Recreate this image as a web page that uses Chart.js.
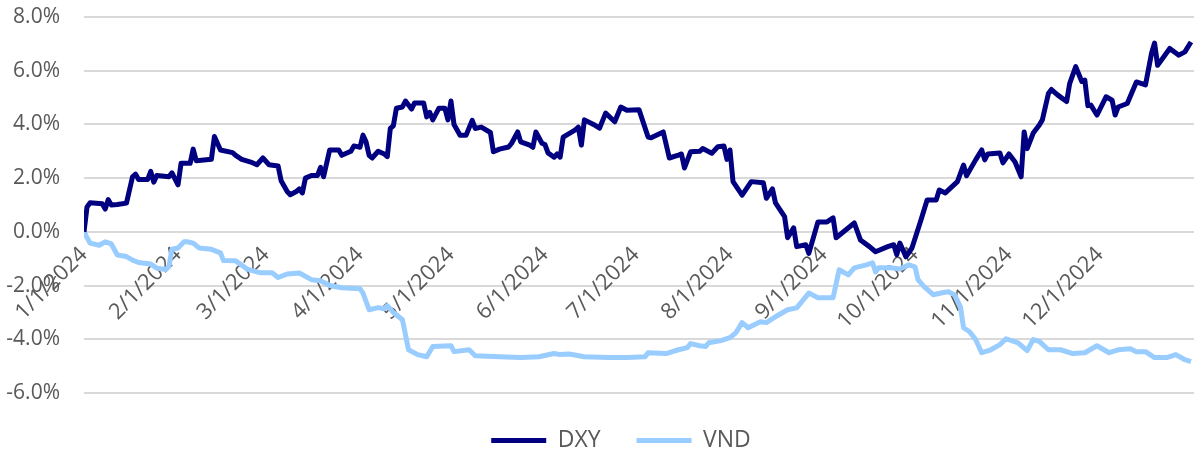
<!DOCTYPE html>
<html>
<head>
<meta charset="utf-8">
<script src="https://cdn.jsdelivr.net/npm/chart.js@4.4.1/dist/chart.umd.min.js"></script>
<style>
  html, body { margin: 0; padding: 0; background: #fff; }
  #wrap { width: 1194px; height: 456px; position: relative; }
</style>
</head>
<body>
<div id="wrap"><canvas id="MyChart"></canvas></div>
<script>
// days counted from 1/1/2024, values in % change since start of year
const dxyDays = [0, 1, 2, 6, 7, 8, 9, 11, 14, 16, 17, 18, 21, 22, 23, 24, 28, 29, 31, 32, 35, 36, 37, 42, 43, 45, 49, 50, 52, 55, 57, 59, 61, 64, 65, 67, 68, 70, 71, 72, 73, 75, 77, 78, 79, 81, 84, 85, 88, 89, 91, 92, 93, 94, 95, 97, 99, 100, 101, 102, 103, 105, 106, 108, 109, 112, 113, 114, 115, 117, 119, 120, 121, 122, 124, 126, 128, 129, 131, 134, 135, 137, 140, 141, 143, 144, 147, 148, 149, 151, 152, 153, 155, 156, 157, 158, 162, 163, 164, 165, 168, 170, 172, 175, 177, 179, 183, 186, 187, 191, 193, 196, 197, 198, 200, 203, 204, 207, 209, 211, 212, 213, 214, 217, 220, 224, 225, 227, 228, 231, 232, 234, 235, 238, 239, 242, 245, 247, 248, 254, 256, 259, 261, 265, 267, 268, 269, 271, 273, 276, 278, 281, 282, 284, 288, 290, 291, 294, 296, 297, 298, 302, 303, 305, 307, 309, 310, 311, 313, 315, 316, 318, 319, 321, 324, 325, 327, 329, 330, 331, 332, 334, 337, 339, 340, 341, 344, 347, 350, 352, 353, 354, 358, 361, 363, 365];
const dxyValues = [0, 0.93, 1.08, 1.05, 0.85, 1.2, 1.0, 1.02, 1.07, 2.05, 2.15, 1.95, 1.95, 2.25, 1.85, 2.1, 2.05, 2.2, 1.75, 2.55, 2.55, 3.08, 2.65, 2.7, 3.55, 3.05, 2.95, 2.85, 2.7, 2.6, 2.5, 2.75, 2.5, 2.45, 1.9, 1.5, 1.38, 1.5, 1.6, 1.45, 2.0, 2.1, 2.1, 2.4, 2.05, 3.05, 3.05, 2.85, 3.0, 3.2, 3.15, 3.6, 3.35, 2.85, 2.75, 3.0, 2.9, 2.8, 3.85, 3.95, 4.6, 4.65, 4.87, 4.57, 4.8, 4.8, 4.28, 4.45, 4.17, 4.6, 4.6, 4.17, 4.87, 4.0, 3.6, 3.6, 4.15, 3.85, 3.9, 3.7, 2.98, 3.08, 3.16, 3.3, 3.72, 3.35, 3.23, 3.15, 3.72, 3.3, 3.25, 2.94, 2.78, 2.9, 2.78, 3.53, 3.8, 3.9, 3.23, 4.17, 4.0, 3.86, 4.42, 4.1, 4.65, 4.53, 4.55, 3.53, 3.5, 3.72, 2.75, 2.86, 2.9, 2.38, 2.98, 3.0, 3.1, 2.93, 3.17, 3.2, 2.7, 3.05, 1.87, 1.37, 1.87, 1.83, 1.25, 1.6, 1.08, 0.57, -0.22, 0.15, -0.55, -0.48, -0.8, 0.37, 0.37, 0.52, -0.22, 0.33, -0.3, -0.55, -0.74, -0.55, -0.48, -0.85, -0.42, -0.93, -0.6, 0.45, 1.19, 1.19, 1.56, 1.45, 1.87, 2.49, 2.09, 2.68, 3.05, 2.68, 2.9, 2.94, 2.57, 2.9, 2.6, 2.05, 3.72, 3.1, 3.68, 3.98, 4.17, 5.15, 5.3, 5.1, 4.85, 5.52, 6.15, 5.6, 5.65, 4.7, 4.72, 4.35, 5.03, 4.9, 4.35, 4.65, 4.78, 5.58, 5.47, 6.65, 7.03, 6.2, 6.83, 6.58, 6.7, 7.07];

const vndDays = [0, 2, 5, 7, 9, 11, 14, 16, 18, 22, 24, 27, 28, 29, 31, 33, 34, 36, 38, 42, 45, 46, 50, 54, 58, 62, 64, 67, 71, 75, 78, 81, 85, 91, 92, 94, 97, 99, 100, 102, 105, 107, 110, 113, 115, 121, 122, 127, 129, 137, 144, 150, 155, 157, 160, 165, 173, 179, 185, 186, 192, 196, 199, 200, 203, 205, 206, 210, 213, 215, 217, 219, 223, 225, 228, 232, 235, 239, 242, 247, 249, 252, 254, 258, 260, 261, 262, 266, 269, 272, 274, 275, 277, 280, 283, 285, 287, 289, 290, 292, 294, 296, 299, 302, 304, 308, 311, 313, 315, 318, 322, 326, 330, 334, 338, 341, 345, 347, 350, 353, 357, 360, 363, 365];
const vndValues = [0, -0.42, -0.5, -0.37, -0.45, -0.86, -0.92, -1.05, -1.14, -1.2, -1.35, -1.4, -1.29, -0.65, -0.6, -0.37, -0.37, -0.42, -0.6, -0.65, -0.78, -1.07, -1.08, -1.4, -1.52, -1.52, -1.7, -1.57, -1.53, -1.78, -1.82, -2.0, -2.08, -2.12, -2.28, -2.9, -2.82, -2.86, -2.75, -3.0, -3.27, -4.39, -4.57, -4.65, -4.27, -4.24, -4.46, -4.39, -4.61, -4.65, -4.68, -4.65, -4.53, -4.57, -4.55, -4.65, -4.68, -4.68, -4.65, -4.5, -4.53, -4.39, -4.31, -4.16, -4.24, -4.27, -4.13, -4.05, -3.94, -3.75, -3.38, -3.57, -3.35, -3.38, -3.16, -2.9, -2.83, -2.28, -2.45, -2.45, -1.41, -1.6, -1.34, -1.23, -1.15, -1.49, -1.34, -1.34, -1.38, -1.23, -1.3, -1.78, -2.04, -2.34, -2.27, -2.23, -2.34, -2.79, -3.57, -3.72, -4.01, -4.5, -4.39, -4.2, -3.98, -4.13, -4.42, -4.01, -4.08, -4.39, -4.39, -4.53, -4.5, -4.24, -4.5, -4.39, -4.35, -4.46, -4.46, -4.68, -4.68, -4.57, -4.76, -4.83];

const tickDays = [0, 31, 60, 91, 121, 152, 182, 213, 244, 274, 305, 335];
const tickLabels = ['1/1/2024', '2/1/2024', '3/1/2024', '4/1/2024', '5/1/2024', '6/1/2024', '7/1/2024', '8/1/2024', '9/1/2024', '10/1/2024', '11/1/2024', '12/1/2024'];

const toPoints = (days, values) => days.map((d, i) => ({ x: d, y: values[i] }));

const fontFamily = '"Open Sans", "DejaVu Sans", sans-serif';
const textColor = '#595959';

// legend sits centred under the plot area rather than the whole canvas
const legendShift = {
    id: 'legendShift',
    afterLayout(chart) {
        chart.legend.left += 24;
        chart.legend.right += 24;
    }
};

const ctx = document.getElementById('MyChart').getContext('2d');
new Chart(ctx, {
    type: 'line',
    data: {
        datasets: [
            {
                label: 'DXY',
                data: toPoints(dxyDays, dxyValues),
                borderColor: '#000080',
                backgroundColor: '#000080',
                borderWidth: 5,
                pointRadius: 0,
                tension: 0,
                borderJoinStyle: 'round'
            },
            {
                label: 'VND',
                data: toPoints(vndDays, vndValues),
                borderColor: '#99CCFF',
                backgroundColor: '#99CCFF',
                borderWidth: 5,
                pointRadius: 0,
                tension: 0,
                borderJoinStyle: 'round'
            }
        ]
    },
    plugins: [legendShift],
    options: {
        responsive: true,
        maintainAspectRatio: false,
        animation: false,
        layout: { padding: { top: 17, right: 0, bottom: -6, left: 0 } },
        plugins: {
            tooltip: { enabled: false },
            legend: {
                position: 'bottom',
                labels: {
                    usePointStyle: true,
                    pointStyle: 'line',
                    pointStyleWidth: 55,
                    boxHeight: 20,
                    padding: 36,
                    color: textColor,
                    font: { family: fontFamily, size: 23 }
                }
            }
        },
        scales: {
            x: {
                type: 'linear',
                position: { y: 0 },
                min: 0,
                max: 366,
                grid: { display: false },
                border: { display: false },
                afterBuildTicks: (scale) => {
                    scale.ticks = tickDays.map(v => ({ value: v }));
                },
                ticks: {
                    autoSkip: false,
                    maxRotation: 45,
                    minRotation: 45,
                    padding: 2,
                    color: textColor,
                    font: { family: fontFamily, size: 22 },
                    callback: (value) => tickLabels[tickDays.indexOf(value)]
                }
            },
            y: {
                min: -6,
                max: 8,
                afterFit: (scale) => {
                    // fixed axis width, and keep the label gap out of the vertical padding
                    scale.width = 84;
                    scale.paddingTop = 12;
                    scale.paddingBottom = 12;
                },
                grid: { color: '#d9d9d9', lineWidth: 2, drawTicks: false },
                border: { display: false },
                ticks: {
                    stepSize: 2,
                    padding: 24,
                    color: textColor,
                    font: { family: fontFamily, size: 21 },
                    callback: (v) => v.toFixed(1) + '%'
                }
            }
        }
    }
});
</script>
</body>
</html>
